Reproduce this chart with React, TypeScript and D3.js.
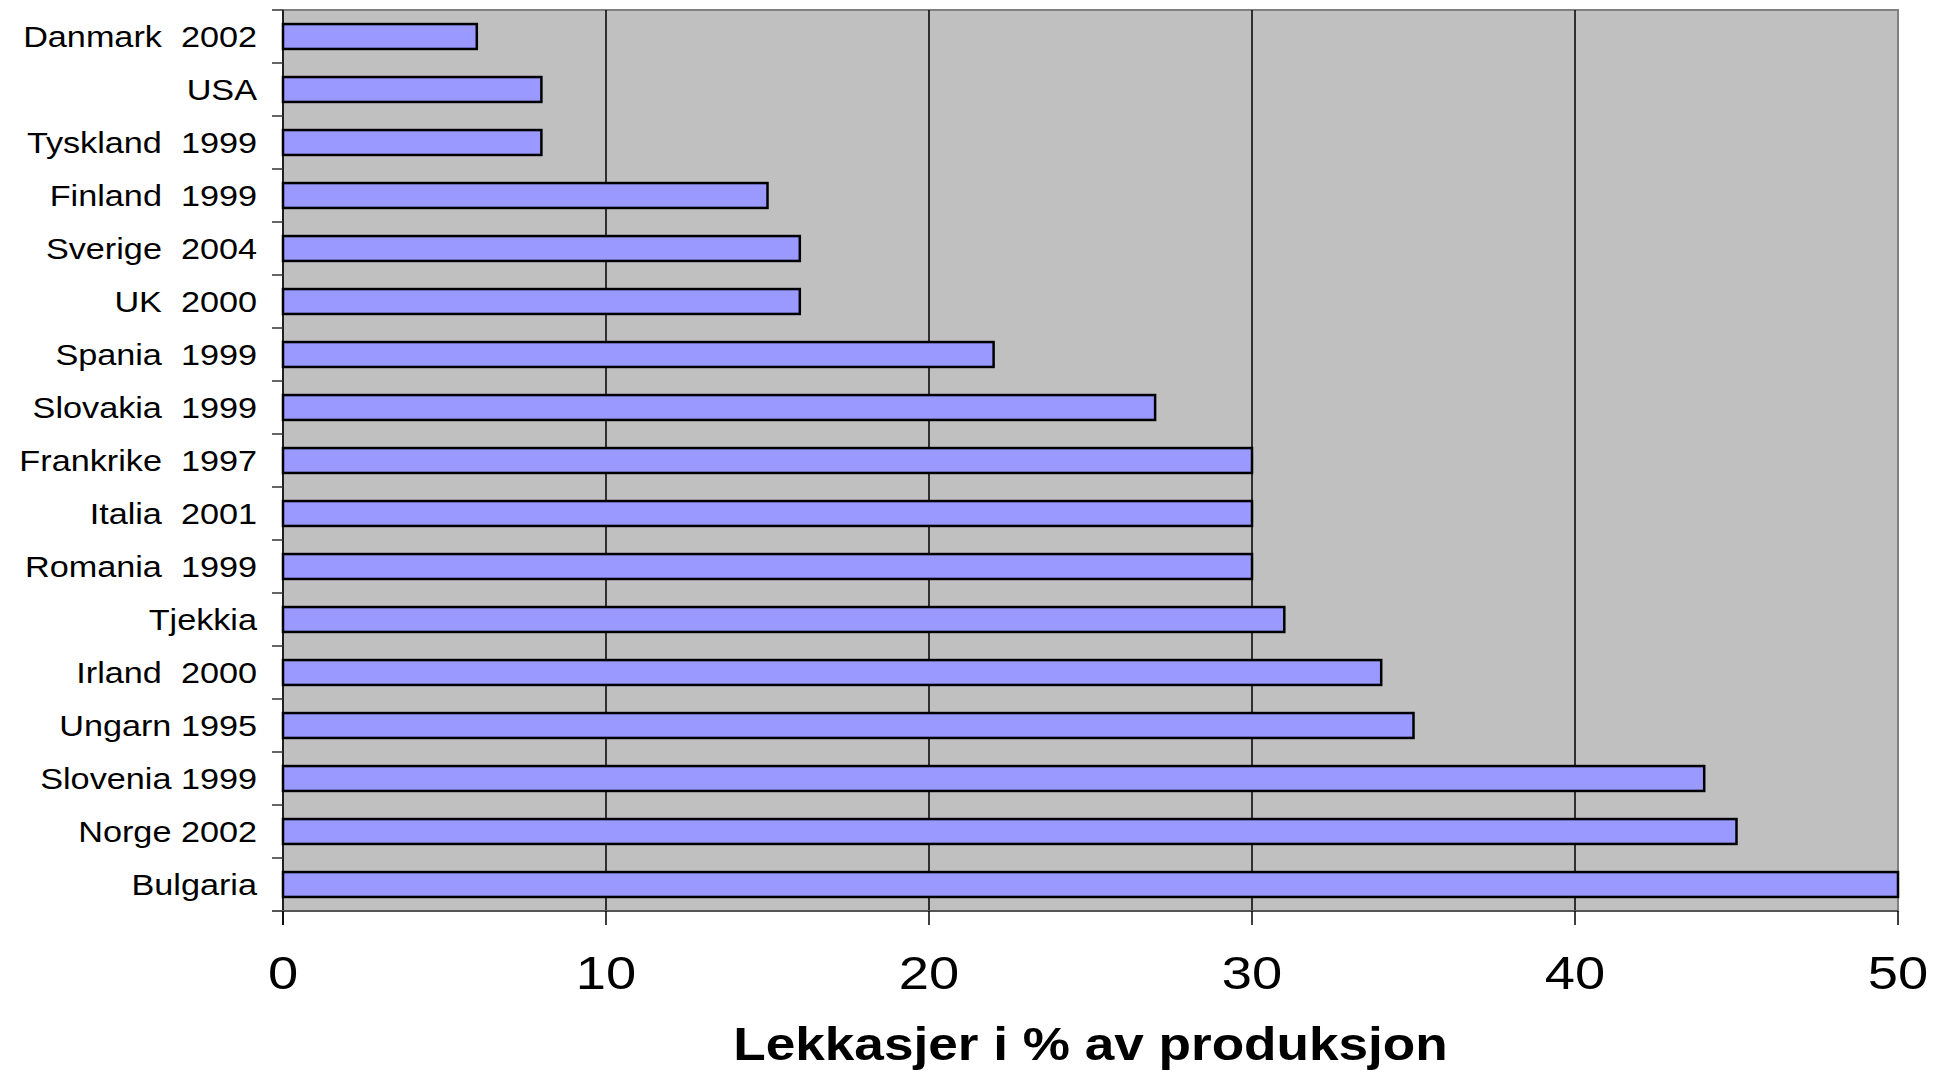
import { useEffect, useRef } from "react";
import * as d3 from "d3";

const categories = [
  "Danmark  2002",
  "USA",
  "Tyskland  1999",
  "Finland  1999",
  "Sverige  2004",
  "UK  2000",
  "Spania  1999",
  "Slovakia  1999",
  "Frankrike  1997",
  "Italia  2001",
  "Romania  1999",
  "Tjekkia",
  "Irland  2000",
  "Ungarn 1995",
  "Slovenia 1999",
  "Norge 2002",
  "Bulgaria",
];
const values = [6, 8, 8, 15, 16, 16, 22, 27, 30, 30, 30, 31, 34, 35, 44, 45, 50];
const xTicks = [0, 10, 20, 30, 40, 50];
const xTitle = "Lekkasjer i % av produksjon";

const App = () => {
  const svgRef = useRef<SVGSVGElement>(null);

  useEffect(() => {
    const svg = d3.select(svgRef.current);
    svg.selectAll("*").remove();

    const width = 1944;
    const height = 1071;
    const margin = { top: 10, right: 46, bottom: 160, left: 283 };
    const stretch = 1.18; // text in the source is widened horizontally
    const font = "'Liberation Sans', Arial, sans-serif";

    const x = d3
      .scaleLinear()
      .domain([0, 50])
      .range([margin.left, width - margin.right]);

    const y = d3
      .scaleBand()
      .domain(categories)
      .range([margin.top, height - margin.bottom])
      .paddingInner(0.53)
      .paddingOuter(0.265);

    const top = margin.top;
    const bottom = height - margin.bottom;
    const step = y.step();

    // plot background
    svg.append("rect")
      .attr("x", x(0))
      .attr("y", top)
      .attr("width", x(50) - x(0))
      .attr("height", bottom - top)
      .attr("fill", "#C0C0C0")
      .attr("stroke", "#808080")
      .attr("stroke-width", 2);

    // gridlines
    svg.append("g")
      .selectAll("line")
      .data(xTicks.slice(1, -1))
      .join("line")
      .attr("x1", d => x(d))
      .attr("x2", d => x(d))
      .attr("y1", top)
      .attr("y2", bottom)
      .attr("stroke", "#000")
      .attr("stroke-width", 1.5);

    // bars
    svg.append("g")
      .selectAll("rect")
      .data(categories)
      .join("rect")
      .attr("x", x(0))
      .attr("y", d => y(d)!)
      .attr("width", (d, i) => x(values[i]) - x(0))
      .attr("height", y.bandwidth())
      .attr("fill", "#9999FF")
      .attr("stroke", "#000")
      .attr("stroke-width", 2.5);

    // left axis line + ticks at band boundaries
    svg.append("line")
      .attr("x1", x(0))
      .attr("x2", x(0))
      .attr("y1", top)
      .attr("y2", bottom + 14)
      .attr("stroke", "#000")
      .attr("stroke-width", 1.5);

    svg.append("g")
      .selectAll("line")
      .data(d3.range(categories.length + 1))
      .join("line")
      .attr("x1", x(0) - 11)
      .attr("x2", x(0))
      .attr("y1", i => top + i * step)
      .attr("y2", i => top + i * step)
      .attr("stroke", "#333")
      .attr("stroke-width", 1.5);

    // bottom axis
    svg.append("line")
      .attr("x1", x(0) - 11)
      .attr("x2", x(50))
      .attr("y1", bottom)
      .attr("y2", bottom)
      .attr("stroke", "#555")
      .attr("stroke-width", 2);

    svg.append("g")
      .selectAll("line")
      .data(xTicks)
      .join("line")
      .attr("x1", d => x(d))
      .attr("x2", d => x(d))
      .attr("y1", bottom)
      .attr("y2", bottom + 14)
      .attr("stroke", "#000")
      .attr("stroke-width", 1.5);

    // category labels
    svg.append("g")
      .selectAll("text")
      .data(categories)
      .join("text")
      .attr("transform", d => `translate(${x(0) - 26},${y(d)! + y.bandwidth() / 2 + 10}) scale(${stretch},1)`)
      .attr("text-anchor", "end")
      .attr("font-family", font)
      .attr("font-size", 29)
      .style("white-space", "pre")
      .attr("fill", "#000")
      .text(d => d);

    // tick labels
    svg.append("g")
      .selectAll("text")
      .data(xTicks)
      .join("text")
      .attr("transform", d => `translate(${x(d)},${bottom + 78}) scale(${stretch},1)`)
      .attr("text-anchor", "middle")
      .attr("font-family", font)
      .attr("font-size", 46)
      .attr("fill", "#000")
      .text(d => d);

    // axis title
    svg.append("text")
      .attr("transform", `translate(${(x(0) + x(50)) / 2},${height - 11}) scale(1.155,1)`)
      .attr("text-anchor", "middle")
      .attr("font-family", font)
      .attr("font-size", 46)
      .attr("font-weight", "bold")
      .attr("fill", "#000")
      .text(xTitle);
  }, []);

  return (
    <svg
      ref={svgRef}
      width={1944}
      height={1071}
      style={{ position: "absolute", left: 0, top: 0, background: "#fff" }}
    ></svg>
  );
};

export default App;
